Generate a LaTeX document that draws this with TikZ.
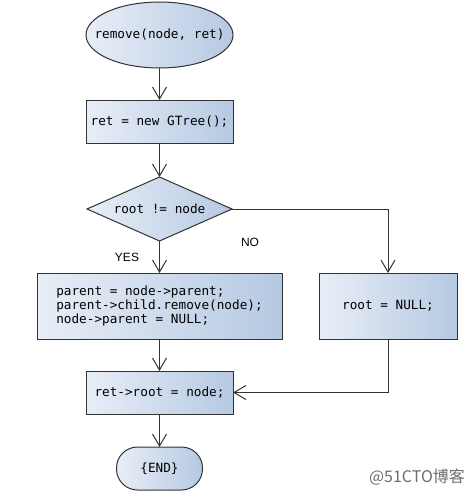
\documentclass[tikz,border=0pt]{standalone}
\usepackage{fontspec}
\setmainfont{Liberation Sans}
\setmonofont{DejaVu Sans Mono}
\newfontfamily\cjk{Noto Sans CJK SC}
\usetikzlibrary{shapes.geometric,shapes.misc,arrows.meta}
\definecolor{lightfill}{HTML}{E8EEF7}
\definecolor{darkfill}{HTML}{B6C9E2}
\definecolor{edgegray}{HTML}{333333}
\definecolor{wmgray}{HTML}{6E6E6E}
\begin{document}
\begin{tikzpicture}[x=1pt,y=-1pt,
  shapebase/.style={draw=edgegray, line width=1pt, left color=lightfill, right color=darkfill,
    font=\fontsize{12.7}{14}\selectfont\ttfamily, inner sep=0pt, outer sep=0pt},
  procbox/.style={shapebase, rectangle, align=left},
  startell/.style={shapebase, ellipse},
  decide/.style={shapebase, diamond, aspect=2.266, minimum width=145pt, minimum height=64pt},
  endterm/.style={shapebase, rectangle, rounded corners=21pt},
  flow/.style={draw=edgegray, line width=1pt, -{Straight Barb[length=12pt,width=14pt,line width=1pt]}},
  lbl/.style={font=\fontsize{12}{14}\selectfont, text=black, inner sep=0pt},
]
\useasboundingbox (0,0) rectangle (476,495);

\node[startell, minimum width=147pt, minimum height=66pt,
  label={[font=\fontsize{12.7}{14}\selectfont\ttfamily]center:remove(node, ret)}] (start) at (159.5,35) {};
\node[procbox, minimum width=147pt, minimum height=43pt] (tree) at (159.5,121.5) {ret = new GTree();};
\node[decide] (cond) at (159.5,209) {root != node};
\node[procbox, minimum width=245pt, minimum height=66pt] (yesbox) at (159.5,306)
  {parent = node->parent;\\parent->child.remove(node);\\node->parent = NULL;};
\node[procbox, minimum width=138pt, minimum height=66pt] (nobox) at (388,306) {root = NULL;};
\node[procbox, minimum width=147pt, minimum height=43pt] (setroot) at (159.5,392.5) {ret->root = node;};
\node[endterm, minimum width=86pt, minimum height=43pt] (finish) at (159.5,468.5) {\{END\}};

\draw[flow] (start) -- (tree);
\draw[flow] (tree) -- (cond);
\draw[flow] (cond) -- (yesbox);
\draw[flow] (cond.east) -| (nobox.north);
\draw[flow] (yesbox) -- (setroot);
\draw[flow] (nobox.south) |- (setroot.east);
\draw[flow] (setroot) -- (finish);

\node[lbl] (yeslbl) at (127,257) {YES};
\node[lbl] (nolbl) at (250,242) {NO};
\node[font=\fontsize{16}{18}\selectfont\cjk, text=wmgray, inner sep=0pt] (wm) at (417,477) {@51CTO博客};
\end{tikzpicture}
\end{document}
